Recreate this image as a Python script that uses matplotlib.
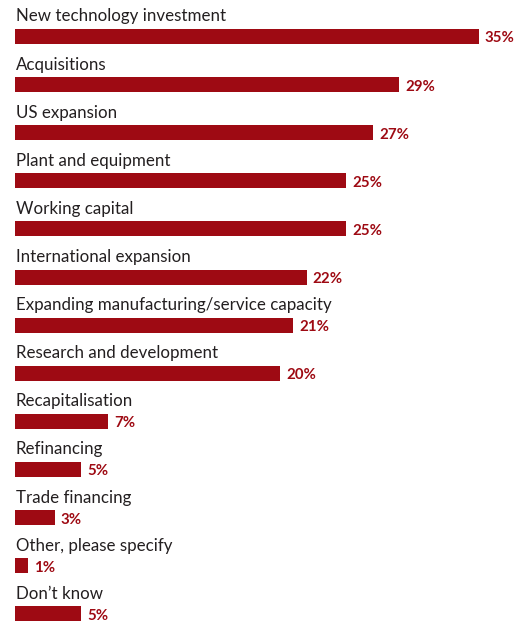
import matplotlib
matplotlib.use('Agg')
import matplotlib.pyplot as plt

categories = [
    'New technology investment',
    'Acquisitions',
    'US expansion',
    'Plant and equipment',
    'Working capital',
    'International expansion',
    'Expanding manufacturing/service capacity',
    'Research and development',
    'Recapitalisation',
    'Refinancing',
    'Trade financing',
    'Other, please specify',
    'Don\u2019t know',
]
values = [35, 29, 27, 25, 25, 22, 21, 20, 7, 5, 3, 1, 5]

BAR_COLOR = '#9e0a13'
TEXT_COLOR = '#231f20'

W, H = 522, 623
fig = plt.figure(figsize=(W / 100, H / 100), dpi=100)
fig.patch.set_facecolor('white')

# axes spans the full height; x scaled so 35% ends near the right edge
left_px = 15
scale = 464 / 35  # pixels per percentage point
ax = fig.add_axes([left_px / W, 0, (W - left_px) / W, 1])
ax.set_xlim(0, (W - left_px) / scale)
ax.set_ylim(H, 0)
ax.axis('off')

row0, step, bar_h = 36.5, 48.1, 15
ys = [row0 + step * i for i in range(len(categories))]

ax.barh(ys, values, height=bar_h, color=BAR_COLOR, align='center')

for y, cat, v in zip(ys, categories, values):
    ax.text(0.05, y - 12, cat, ha='left', va='bottom', fontsize=12.2,
            color=TEXT_COLOR, family='Lato')
    ax.text(v + 0.45, y + 2, f'{v}%', ha='left', va='center', fontsize=10.8,
            fontweight='bold', color=BAR_COLOR, family='Lato')

fig.savefig('out.png', dpi=100)
